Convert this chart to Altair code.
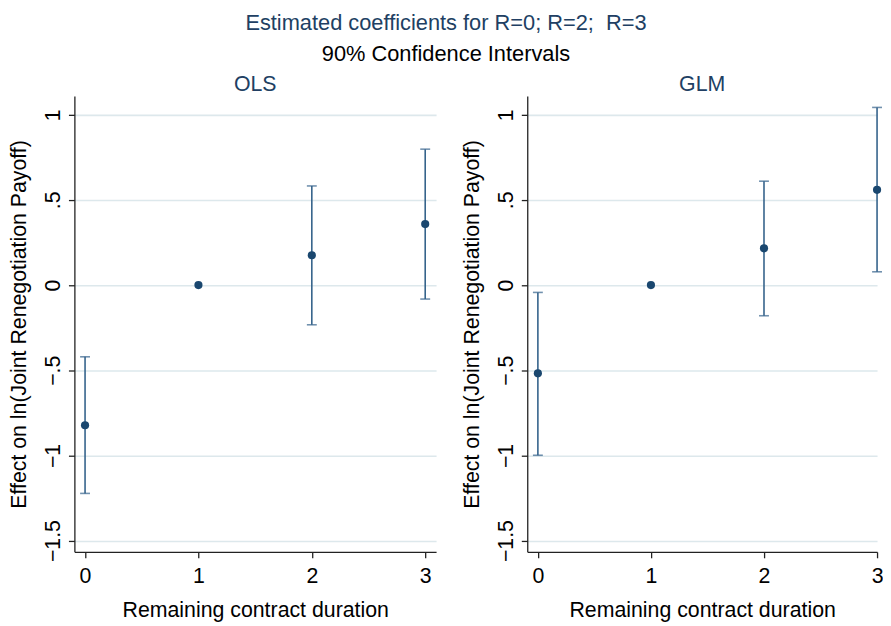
import altair as alt
import pandas as pd

# ---- data ----
R = [0, 1, 2, 3]
ols_coef = [-0.823, 0.0, 0.175, 0.358]
ols_lo = [-1.223, None, -0.233, -0.082]
ols_hi = [-0.421, None, 0.582, 0.798]
glm_coef = [-0.518, 0.0, 0.216, 0.559]
glm_lo = [-0.999, None, -0.180, 0.078]
glm_hi = [-0.043, None, 0.610, 1.043]

x_ticks = [0, 1, 2, 3]
y_ticks = [-1.5, -1, -0.5, 0, 0.5, 1]
y_tick_labels = ["\u22121.5", "\u22121", "\u2212.5", "0", ".5", "1"]

FONT = "Liberation Sans"
FS = 21.5
NAVY = "#1a476f"
BAR = "#35638b"
TITLE_C = "#213f63"
GRID = "#dde8ec"

label_expr = ""
for v, lab in zip(y_ticks, y_tick_labels):
    label_expr += f"abs(datum.value - ({v})) < 1e-6 ? '{lab}' : "
label_expr += "''"


def panel(name, coef, lo, hi, width, xdom):
    pts = pd.DataFrame({"R": R, "coef": coef})
    ci = pd.DataFrame({"R": R, "lo": lo, "hi": hi}).dropna()

    xscale = alt.Scale(domain=xdom, nice=False, zero=False)
    yscale = alt.Scale(domain=[-1.566, 1.11], nice=False, zero=False)

    xaxis = alt.Axis(
        values=x_ticks, format="d", grid=False, labelFlush=False,
        labelFont=FONT, labelFontSize=FS, labelColor="black", labelPadding=8,
        tickSize=6, tickColor="#222", tickWidth=1.3,
        domainColor="#222", domainWidth=1.3,
        title="Remaining contract duration", titleFont=FONT, titleFontSize=FS,
        titleFontWeight="normal", titleColor="black", titleBaseline="top", titleY=48,
    )
    yaxis = alt.Axis(
        values=y_ticks, labelExpr=label_expr, grid=True, gridColor=GRID, gridWidth=1.6,
        labelFlush=False, labelAngle=270, labelAlign="center", labelBaseline="bottom",
        labelFont=FONT, labelFontSize=FS, labelColor="black", labelPadding=4,
        tickSize=6, tickColor="#222", tickWidth=1.3,
        domainColor="#222", domainWidth=1.3,
        title="Effect on ln(Joint Renegotiation Payoff)", titleFont=FONT, titleFontSize=FS,
        titleFontWeight="normal", titleColor="black", titleAngle=270,
        titleBaseline="alphabetic", titleAlign="center", titleX=-49, titleY=230,
    )

    rules = alt.Chart(ci).mark_rule(color=BAR, strokeWidth=1.6).encode(
        x=alt.X("R:Q", scale=xscale, axis=xaxis),
        y=alt.Y("lo:Q", scale=yscale, axis=yaxis),
        y2="hi:Q",
    )
    cap_lo = alt.Chart(ci).mark_tick(color=BAR, orient="horizontal", size=10, thickness=1.6).encode(
        x=alt.X("R:Q", scale=xscale), y=alt.Y("lo:Q", scale=yscale)
    )
    cap_hi = alt.Chart(ci).mark_tick(color=BAR, orient="horizontal", size=10, thickness=1.6).encode(
        x=alt.X("R:Q", scale=xscale), y=alt.Y("hi:Q", scale=yscale)
    )
    points = alt.Chart(pts).mark_point(filled=True, color=NAVY, size=68, opacity=1).encode(
        x=alt.X("R:Q", scale=xscale, axis=xaxis),
        y=alt.Y("coef:Q", scale=yscale, axis=yaxis),
    )
    return alt.layer(rules, cap_lo, cap_hi, points).properties(
        width=width, height=460,
        title=alt.Title(name, font=FONT, fontSize=FS, fontWeight="normal", color=TITLE_C,
                        offset=1, anchor="middle"),
    )


left = panel("OLS", ols_coef, ols_lo, ols_hi, 365, [-0.094, 3.096])
right = panel("GLM", glm_coef, glm_lo, glm_hi, 353, [-0.094, 3.0])

chart = alt.hconcat(left, right, spacing=25).properties(
    title=alt.Title(
        text="Estimated coefficients for R=0; R=2;\u00a0 R=3",
        subtitle="90% Confidence Intervals",
        font=FONT, fontSize=22, fontWeight="normal", color=TITLE_C,
        subtitleFont=FONT, subtitleFontSize=22, subtitleColor="black",
        subtitlePadding=9, anchor="middle", offset=8, baseline="top",
    ),
    padding={"left": 0, "top": 1, "right": 0, "bottom": 0},
).configure_view(stroke=None)

chart.save("out.html", embed_options={"renderer": "svg", "actions": False})
